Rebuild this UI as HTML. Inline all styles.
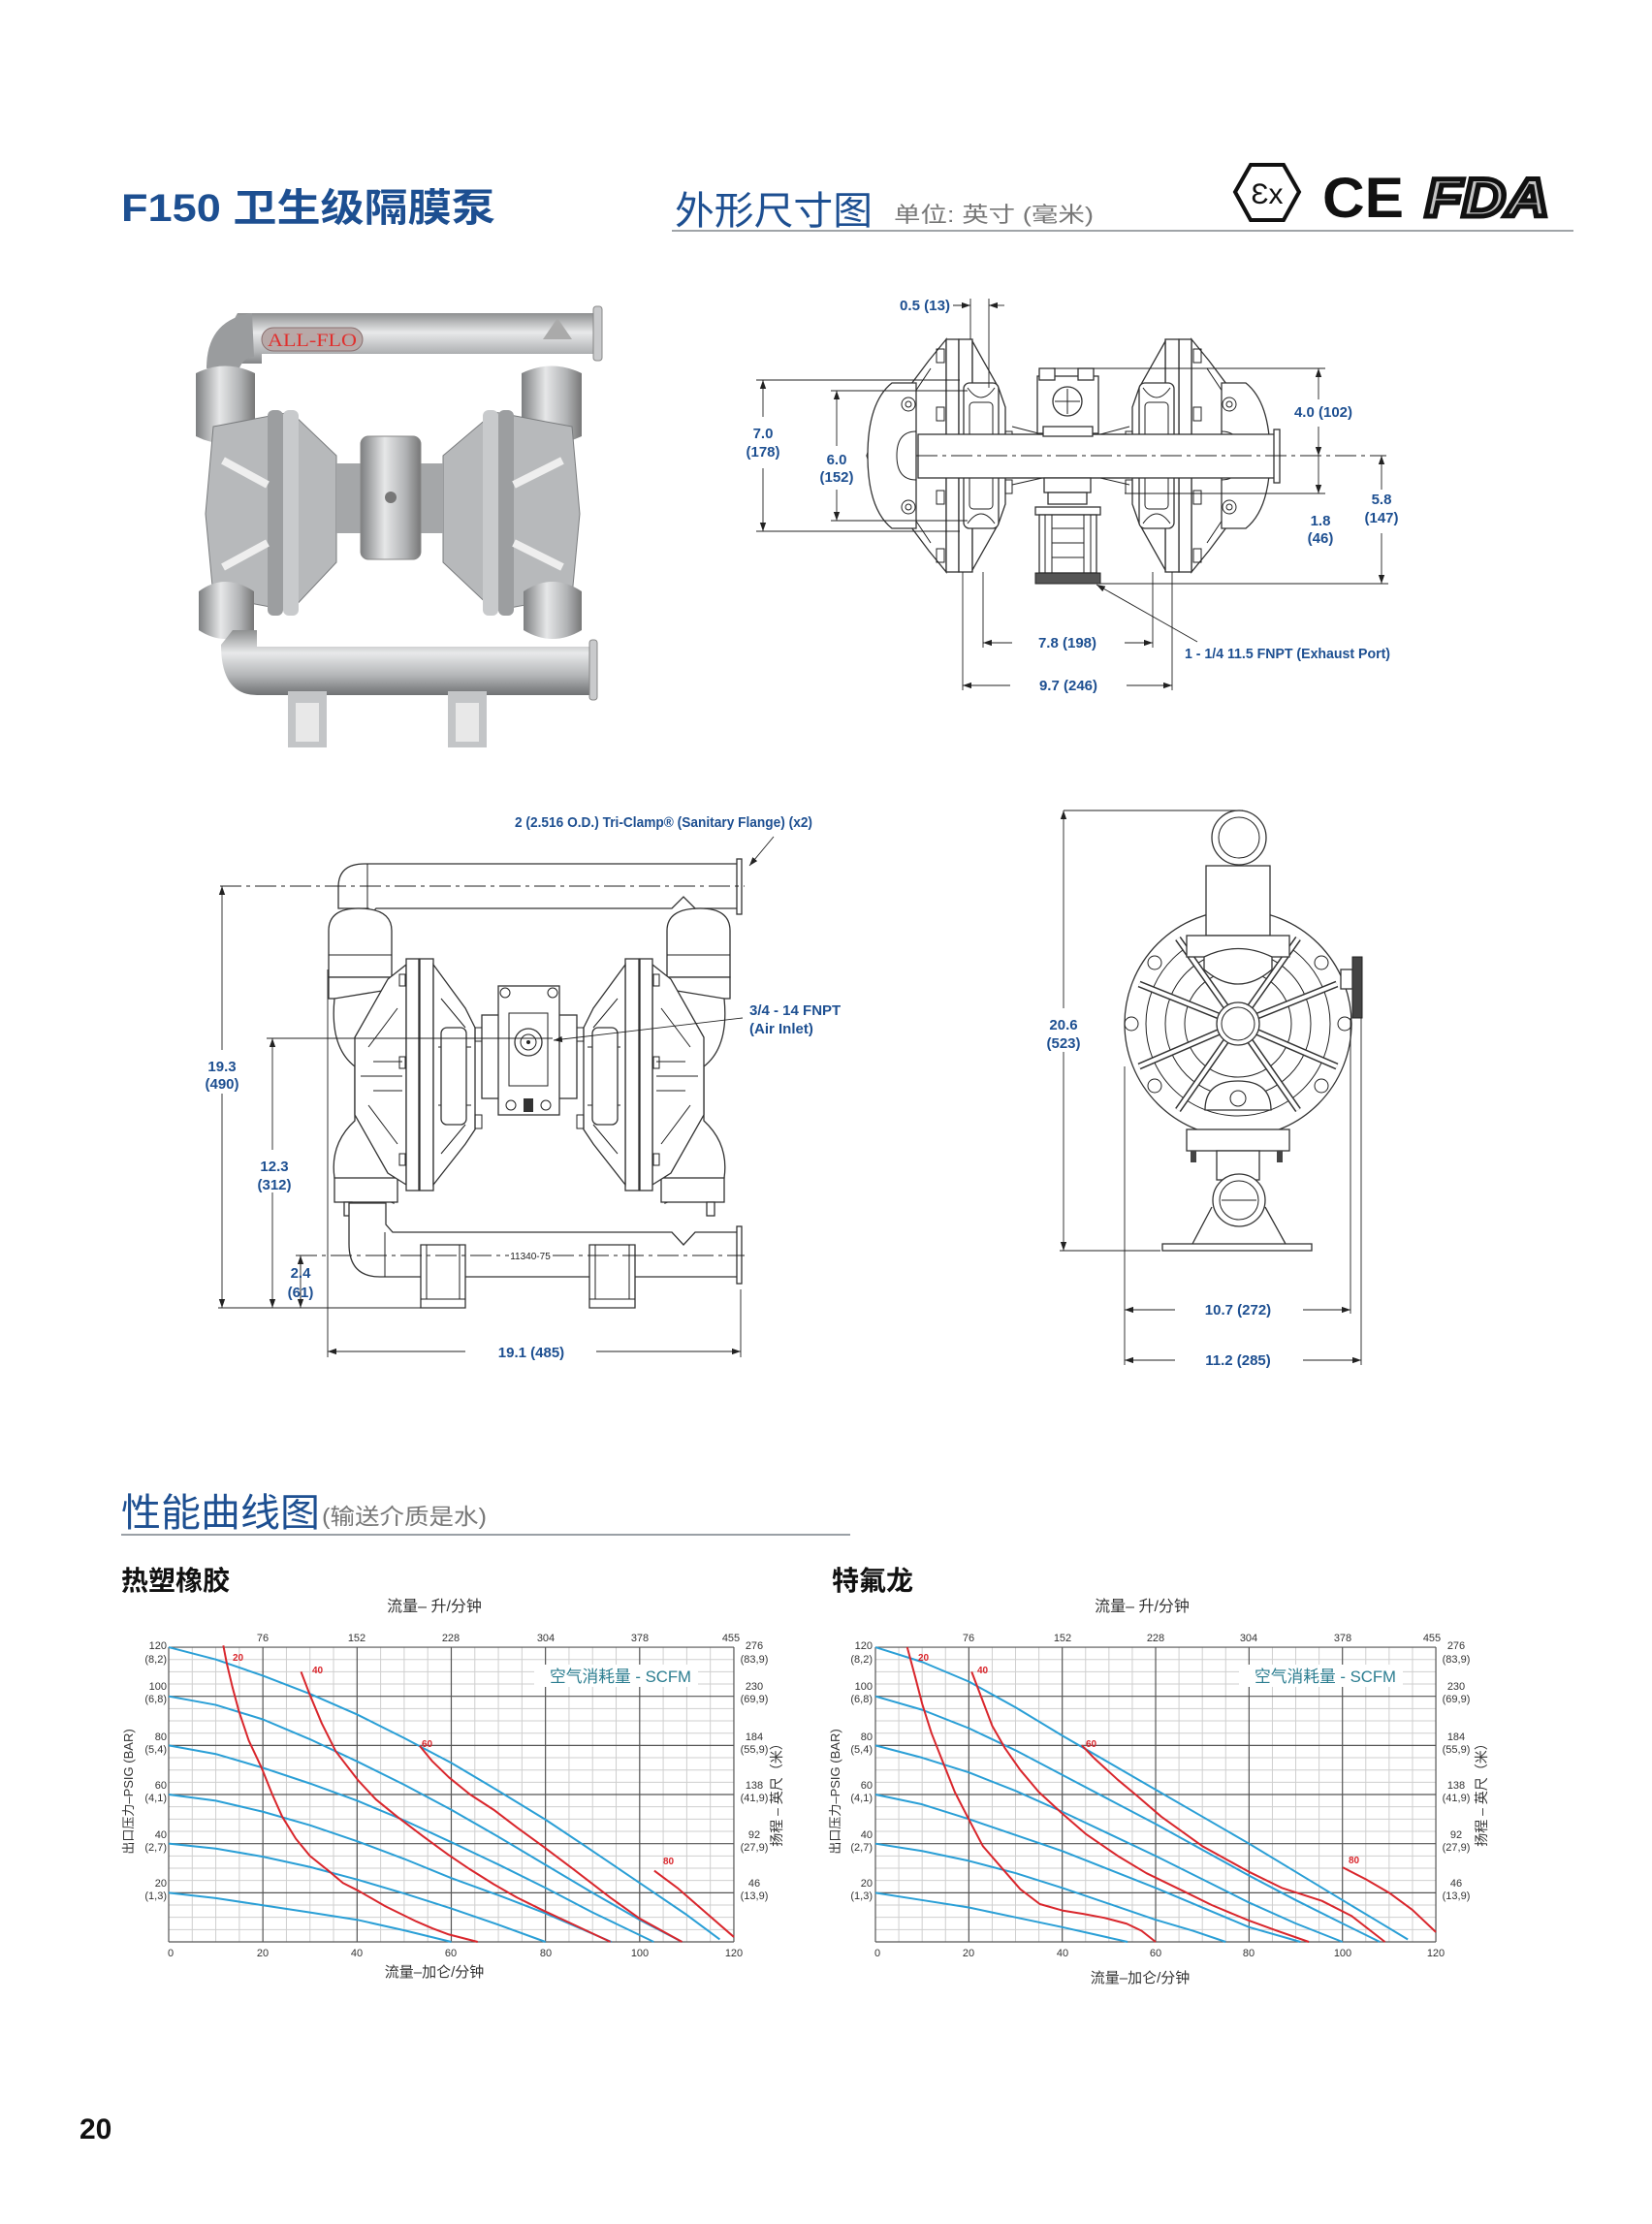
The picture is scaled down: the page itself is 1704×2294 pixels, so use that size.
<!DOCTYPE html>
<html><head><meta charset="utf-8">
<style>
html,body{margin:0;padding:0;background:#fff;}
svg{display:block;}
.cj{font-family:"Liberation Sans","Noto Sans CJK SC",sans-serif;}
.dim{font-family:"Liberation Sans",sans-serif;font-size:15px;fill:#1d4f91;font-weight:bold;}
.ax{font-family:"Liberation Sans",sans-serif;font-size:11px;fill:#333;}
.ln{stroke:#222;stroke-width:1;fill:none;}
.dl{stroke:#222;stroke-width:0.9;fill:none;}
.pt{stroke:#333;stroke-width:1.3;fill:#fff;}
.bl{fill:none;stroke:#2a9fd6;stroke-width:2;vector-effect:non-scaling-stroke;stroke-linejoin:round;}
.rd{fill:none;stroke:#d9262c;stroke-width:2;vector-effect:non-scaling-stroke;stroke-linejoin:round;}
.gmin{stroke:#cfcfcf;stroke-width:1;vector-effect:non-scaling-stroke;fill:none;}
.gmaj{stroke:#555;stroke-width:1.2;vector-effect:non-scaling-stroke;fill:none;}
.rl{font-family:"Liberation Sans",sans-serif;font-size:10px;font-weight:bold;fill:#d9262c;}
</style></head>
<body>
<svg width="1704" height="2294" viewBox="0 0 1704 2294" xmlns="http://www.w3.org/2000/svg">
<defs>
<marker id="ar" viewBox="0 0 10 10" refX="10" refY="5" markerWidth="9" markerHeight="9" markerUnits="userSpaceOnUse" orient="auto-start-reverse"><path d="M0,1.5 L10,5 L0,8.5 z" fill="#222"/></marker>
<linearGradient id="met" x1="0" y1="0" x2="0" y2="1"><stop offset="0" stop-color="#8e9091"/><stop offset="0.35" stop-color="#e8e9ea"/><stop offset="0.7" stop-color="#b3b5b7"/><stop offset="1" stop-color="#6f7173"/></linearGradient>
<linearGradient id="metv" x1="0" y1="0" x2="1" y2="0"><stop offset="0" stop-color="#7d7f81"/><stop offset="0.4" stop-color="#e6e7e8"/><stop offset="0.75" stop-color="#b0b2b4"/><stop offset="1" stop-color="#777"/></linearGradient>
<g id="grid">
<path class="gmin" d="M5 0V120M10 0V120M15 0V120M25 0V120M30 0V120M35 0V120M45 0V120M50 0V120M55 0V120M65 0V120M70 0V120M75 0V120M85 0V120M90 0V120M95 0V120M105 0V120M110 0V120M115 0V120M0 5H120M0 10H120M0 15H120M0 25H120M0 30H120M0 35H120M0 45H120M0 50H120M0 55H120M0 65H120M0 70H120M0 75H120M0 85H120M0 90H120M0 95H120M0 105H120M0 110H120M0 115H120"/>
<path class="gmaj" d="M0 0V120M20 0V120M40 0V120M60 0V120M80 0V120M100 0V120M120 0V120M0 0H120M0 20H120M0 40H120M0 60H120M0 80H120M0 100H120M0 120H120"/>
</g>
</defs>

<!-- HEADER -->
<text x="125" y="228" class="cj" font-size="40" font-weight="bold" fill="#1d4f91" textLength="386" lengthAdjust="spacingAndGlyphs">F150 卫生级隔膜泵</text>
<text x="696" y="231" class="cj" font-size="40" fill="#1d4f91" textLength="204" lengthAdjust="spacingAndGlyphs">外形尺寸图</text>
<text x="922" y="229" class="cj" font-size="22" fill="#777" textLength="206" lengthAdjust="spacingAndGlyphs">单位:  英寸  (毫米)</text>
<line x1="693" y1="238" x2="1623" y2="238" stroke="#a0a4a8" stroke-width="2"/>
<!-- logos -->
<path d="M1290 170 L1324 170 L1340 198 L1324 227 L1290 227 L1274 198 Z" fill="none" stroke="#111" stroke-width="4"/>
<text x="1307" y="210" font-family="Liberation Sans,sans-serif" font-size="30" text-anchor="middle" fill="#111">Ɛx</text>
<text x="1364" y="224" font-family="Liberation Sans,sans-serif" font-size="58" font-weight="bold" fill="#111" textLength="84" lengthAdjust="spacingAndGlyphs">CE</text>
<text x="1470" y="223" font-family="Liberation Sans,sans-serif" font-size="56" font-weight="bold" font-style="italic" fill="#fff" stroke="#111" stroke-width="5" textLength="128" lengthAdjust="spacingAndGlyphs">FDA</text>
<text x="1470" y="223" font-family="Liberation Sans,sans-serif" font-size="56" font-weight="bold" font-style="italic" fill="#111" textLength="128" lengthAdjust="spacingAndGlyphs" opacity="0.25">FDA</text>

<!-- PHOTO -->
<g>
<path d="M245 323 H617 V365 H270 V375 H245 Q213 360 213 380 Z" fill="url(#met)"/>
<path d="M213 380 Q213 330 260 323 L262 368 Q250 368 245 385 Z" fill="#9a9c9e"/>
<rect x="612" y="316" width="9" height="56" rx="3" fill="#c9cacc" stroke="#888"/>
<rect x="270" y="338" width="104" height="24" rx="12" fill="#b8a9a8" stroke="#8a7070"/>
<text x="322" y="357" font-family="Liberation Serif,serif" font-size="19" fill="#e0302e" text-anchor="middle" textLength="92" lengthAdjust="spacingAndGlyphs">ALL-FLO</text>
<path d="M202 385 Q232 370 263 385 V450 Q232 465 202 450 Z" fill="url(#metv)"/>
<path d="M538 385 Q569 370 600 385 V450 Q569 465 538 450 Z" fill="url(#metv)"/>
<path d="M560 350 L575 328 L590 350 Z" fill="#aaa"/>
<path d="M220 440 L300 425 L347 470 L347 580 L300 630 L220 615 L212 530 Z" fill="#b7b9bb" stroke="#7a7c7e"/>
<path d="M590 440 L510 425 L457 470 L457 580 L510 630 L590 615 L598 530 Z" fill="#b7b9bb" stroke="#7a7c7e"/>
<rect x="276" y="423" width="16" height="212" rx="6" fill="#9c9ea0"/>
<rect x="292" y="423" width="16" height="212" rx="6" fill="#c8cacc"/>
<rect x="498" y="423" width="16" height="212" rx="6" fill="#c8cacc"/>
<rect x="514" y="423" width="16" height="212" rx="6" fill="#9c9ea0"/>
<path d="M230 475 L276 500 M230 585 L276 560 M580 475 L530 500 M580 585 L530 560" stroke="#eee" stroke-width="8"/>
<rect x="347" y="478" width="110" height="72" fill="#a5a7a9"/>
<rect x="372" y="450" width="62" height="127" rx="8" fill="url(#metv)" stroke="#888"/>
<circle cx="403" cy="513" r="6" fill="#777"/>
<path d="M205 610 Q232 590 262 610 V650 Q232 668 205 650 Z" fill="url(#metv)"/>
<path d="M540 610 Q570 590 600 610 V650 Q570 668 540 650 Z" fill="url(#metv)"/>
<path d="M228 665 Q228 717 265 717 H613 V667 H265 V650 H240 Z" fill="url(#met)"/>
<rect x="608" y="660" width="8" height="62" rx="3" fill="#c9cacc" stroke="#888"/>
<rect x="297" y="713" width="40" height="58" fill="#c3c5c7"/>
<rect x="462" y="713" width="40" height="58" fill="#c3c5c7"/>
<rect x="305" y="725" width="24" height="40" fill="#e8e8e8"/>
<rect x="470" y="725" width="24" height="40" fill="#e8e8e8"/>
</g>

<!-- TOP RIGHT FRONT VIEW -->
<g>
<g id="hsgL">
<path class="pt" d="M976 350 L958 372 L922 420 L898 458 L894 470 L898 482 L922 520 L958 568 L976 590 Z"/>
<path class="ln" d="M960 380 L930 425 L905 470 L930 515 L960 560"/>
<path class="pt" d="M920 395 Q895 415 895 470 Q895 525 920 545 L945 545 V395 Z" fill="none"/>
<path class="ln" d="M945 445 Q925 445 925 470 Q925 495 945 495"/>
<circle class="ln" cx="937" cy="417" r="7"/><circle class="ln" cx="937" cy="417" r="3"/>
<circle class="ln" cx="937" cy="523" r="7"/><circle class="ln" cx="937" cy="523" r="3"/>
<rect class="pt" x="976" y="350" width="13" height="240"/>
<rect class="pt" x="989" y="350" width="14" height="240"/>
<path class="pt" d="M1003 352 L1030 400 L1037 420 L1037 520 L1030 540 L1003 588 Z"/>
<rect class="pt" x="994" y="395" width="36" height="150" rx="6"/>
<rect class="ln" x="1000" y="415" width="24" height="110" rx="4"/>
<path class="ln" d="M998 400 Q1012 420 1026 400 M998 540 Q1012 520 1026 540"/>
<rect class="ln" x="966" y="360" width="8" height="14"/><rect class="ln" x="966" y="420" width="8" height="14"/><rect class="ln" x="966" y="506" width="8" height="14"/><rect class="ln" x="966" y="566" width="8" height="14"/>
<rect class="ln" x="1037" y="445" width="7" height="14"/><rect class="ln" x="1037" y="495" width="7" height="14"/>
</g>
<use href="#hsgL" transform="translate(2205,0) scale(-1,1)"/>
<rect class="pt" x="947" y="448" width="371" height="45" fill="none"/>
<rect fill="#fff" x="1044" y="449" width="121" height="43"/>
<line class="ln" x1="1044" y1="448" x2="1165" y2="448"/><line class="ln" x1="1044" y1="493" x2="1165" y2="493"/>
<path class="ln" d="M1044 440 L1075 448 M1044 500 L1075 493 M1165 440 L1135 448 M1165 500 L1135 493"/>
<rect class="pt" x="1314" y="443" width="6" height="55"/>
<rect class="pt" x="1070" y="388" width="63" height="59"/>
<rect class="pt" x="1072" y="380" width="16" height="12"/><rect class="pt" x="1112" y="380" width="16" height="12"/>
<circle class="pt" cx="1101" cy="414" r="15"/><path class="ln" d="M1101 401 V427 M1088 414 H1114"/>
<rect class="pt" x="1076" y="440" width="51" height="10"/>
<rect class="pt" x="1077" y="493" width="48" height="15"/>
<rect class="pt" x="1081" y="508" width="40" height="12"/>
<rect class="pt" x="1068" y="523" width="67" height="8"/>
<rect class="pt" x="1072" y="531" width="59" height="60"/>
<path class="ln" d="M1078 531 V591 M1125 531 V591 M1085 531 V591 M1118 531 V591 M1085 545 H1118 M1085 560 H1118 M1085 575 H1118"/>
<rect x="1068" y="591" width="67" height="11" fill="#555" stroke="#222"/>
<!-- centerline -->
<path d="M945 470 H1430" stroke="#222" stroke-width="0.9" stroke-dasharray="22,5,4,5"/>
<!-- dims -->
<text class="dim" x="954" y="320" text-anchor="middle" textLength="52" lengthAdjust="spacingAndGlyphs">0.5 (13)</text>
<line class="dl" x1="983" y1="315" x2="1001" y2="315" marker-end="url(#ar)"/>
<line class="dl" x1="1036" y1="315" x2="1020" y2="315" marker-end="url(#ar)"/>
<path class="dl" d="M1001 308 V350 M1020 308 V400"/>
<path class="dl" d="M780 392 H990 M780 548 H990 M857 403 H998 M857 537 H998"/>
<line class="dl" x1="787" y1="430" x2="787" y2="392" marker-end="url(#ar)"/>
<line class="dl" x1="787" y1="483" x2="787" y2="548" marker-end="url(#ar)"/>
<text class="dim" x="787" y="452" text-anchor="middle">7.0</text>
<text class="dim" x="787" y="471" text-anchor="middle">(178)</text>
<line class="dl" x1="863" y1="460" x2="863" y2="403" marker-end="url(#ar)"/>
<line class="dl" x1="863" y1="505" x2="863" y2="537" marker-end="url(#ar)"/>
<text class="dim" x="863" y="479" text-anchor="middle">6.0</text>
<text class="dim" x="863" y="497" text-anchor="middle">(152)</text>
<path class="dl" d="M1086 380 H1367 M1160 509 H1367 M1135 602 H1432"/>
<line class="dl" x1="1360" y1="412" x2="1360" y2="380" marker-end="url(#ar)"/>
<line class="dl" x1="1360" y1="440" x2="1360" y2="470" marker-end="url(#ar)"/>
<text class="dim" x="1365" y="430" text-anchor="middle">4.0 (102)</text>
<line class="dl" x1="1360" y1="470" x2="1360" y2="509" marker-end="url(#ar)"/>
<text class="dim" x="1362" y="542" text-anchor="middle">1.8</text>
<text class="dim" x="1362" y="560" text-anchor="middle">(46)</text>
<line class="dl" x1="1425" y1="505" x2="1425" y2="470" marker-end="url(#ar)"/>
<line class="dl" x1="1425" y1="550" x2="1425" y2="602" marker-end="url(#ar)"/>
<text class="dim" x="1425" y="520" text-anchor="middle">5.8</text>
<text class="dim" x="1425" y="539" text-anchor="middle">(147)</text>
<path class="dl" d="M1014 590 V668 M1189 590 V668 M993 590 V712 M1209 590 V712"/>
<line class="dl" x1="1044" y1="663" x2="1014" y2="663" marker-end="url(#ar)"/>
<line class="dl" x1="1160" y1="663" x2="1189" y2="663" marker-end="url(#ar)"/>
<text class="dim" x="1101" y="668" text-anchor="middle">7.8 (198)</text>
<line class="dl" x1="1042" y1="707" x2="993" y2="707" marker-end="url(#ar)"/>
<line class="dl" x1="1162" y1="707" x2="1209" y2="707" marker-end="url(#ar)"/>
<text class="dim" x="1102" y="712" text-anchor="middle">9.7 (246)</text>
<line class="dl" x1="1235" y1="662" x2="1131" y2="603" marker-end="url(#ar)"/>
<text class="dim" x="1222" y="679" textLength="212" lengthAdjust="spacingAndGlyphs">1 - 1/4 11.5 FNPT (Exhaust Port)</text>
</g>

<!-- BOTTOM LEFT SIDE VIEW -->
<g>
<text class="dim" x="531" y="853" textLength="307" lengthAdjust="spacingAndGlyphs">2 (2.516 O.D.) Tri-Clamp® (Sanitary Flange) (x2)</text>
<line class="dl" x1="798" y1="863" x2="773" y2="893" marker-end="url(#ar)"/>
<path class="pt" d="M349 937 V915 Q349 891 376 891 H762 V937 H717 L705 925 L693 937 H388 L380 945 V937 Z" fill="#fff"/>
<path class="ln" d="M379 891 V945"/>
<rect class="pt" x="760" y="886" width="5" height="57"/>
<g id="sideL">
<path class="pt" d="M339 1008 V960 Q339 937 370 937 Q404 937 404 960 V1008 Z"/>
<path class="ln" d="M339 985 H404"/>
<rect class="pt" x="339" y="1008" width="70" height="22"/>
<path class="pt" d="M345 1030 Q340 1080 366 1100 L366 1156 Q340 1180 345 1215 L406 1241 L406 1020 Z"/>
<rect class="pt" x="345" y="1215" width="65" height="25"/>
<rect class="pt" x="355" y="1240" width="8" height="14" fill="#555"/>
<path class="pt" d="M366 1070 L400 1010 L419 995 L419 1222 L400 1210 L366 1150 Z"/>
<path class="ln" d="M380 1080 L410 1040 M380 1140 L410 1180 M372 1110 H415 M385 1095 L415 1095 M385 1125 L415 1125"/>
<rect class="pt" x="419" y="989" width="13" height="239"/>
<rect class="pt" x="433" y="989" width="14" height="239"/>
<path class="pt" d="M447 995 L480 1040 L490 1060 L490 1165 L480 1180 L447 1222 Z"/>
<path class="ln" d="M455 1030 L480 1060 M455 1190 L480 1160 M452 1080 H486 M452 1140 H486"/>
<rect class="pt" x="455" y="1060" width="26" height="100" rx="6"/>
<rect class="ln" x="412" y="1005" width="6" height="12"/><rect class="ln" x="412" y="1090" width="6" height="12"/><rect class="ln" x="412" y="1190" width="6" height="12"/>
<rect class="ln" x="490" y="1060" width="7" height="14"/><rect class="ln" x="490" y="1150" width="7" height="14"/>
</g>
<use href="#sideL" transform="translate(1092,0) scale(-1,1)"/>
<rect class="pt" x="497" y="1047" width="98" height="86"/>
<rect class="pt" x="514" y="1017" width="63" height="133"/>
<rect class="ln" x="525" y="1045" width="40" height="75"/>
<circle class="pt" cx="545" cy="1075" r="14"/><circle class="ln" cx="545" cy="1075" r="8"/><circle cx="545" cy="1075" r="2" fill="#222"/>
<circle class="ln" cx="521" cy="1024" r="5"/><circle class="ln" cx="570" cy="1024" r="5"/>
<circle class="ln" cx="527" cy="1140" r="5"/><circle class="ln" cx="563" cy="1140" r="5"/><rect x="540" y="1133" width="10" height="14" fill="#333"/>
<path class="pt" d="M360 1241 V1283 Q360 1317 392 1317 H762 V1271 H717 L705 1284 L693 1271 H405 L398 1263 V1241 Z" fill="#fff"/>
<path class="ln" d="M397 1271 V1317"/>
<rect class="pt" x="760" y="1265" width="5" height="59"/>
<path class="pt" d="M434 1284 H480 V1349 H434 Z"/><path class="ln" d="M440 1284 V1340 H474 V1284 M434 1340 H480"/>
<path class="pt" d="M608 1284 H655 V1349 H608 Z"/><path class="ln" d="M614 1284 V1340 H649 V1284 M608 1340 H655"/>
<path d="M227 914 H768" stroke="#222" stroke-width="0.9" stroke-dasharray="22,5,4,5"/>
<path d="M305 1295 H525 M570 1295 H768" stroke="#222" stroke-width="0.9" stroke-dasharray="22,5,4,5"/>
<text x="547" y="1299" font-family="Liberation Sans,sans-serif" font-size="10" fill="#222" text-anchor="middle">11340-75</text>
<path class="dl" d="M225 1349 H434 M275 1071 H570 M338 1000 V1400 M764 1330 V1400"/>
<line class="dl" x1="229" y1="1083" x2="229" y2="914" marker-end="url(#ar)"/>
<line class="dl" x1="229" y1="1128" x2="229" y2="1349" marker-end="url(#ar)"/>
<text class="dim" x="229" y="1105" text-anchor="middle">19.3</text>
<text class="dim" x="229" y="1123" text-anchor="middle">(490)</text>
<line class="dl" x1="281" y1="1186" x2="281" y2="1071" marker-end="url(#ar)"/>
<line class="dl" x1="281" y1="1230" x2="281" y2="1349" marker-end="url(#ar)"/>
<text class="dim" x="283" y="1208" text-anchor="middle">12.3</text>
<text class="dim" x="283" y="1227" text-anchor="middle">(312)</text>
<line class="dl" x1="310" y1="1295" x2="310" y2="1349"/>
<line class="dl" x1="310" y1="1310" x2="310" y2="1295" marker-end="url(#ar)"/>
<line class="dl" x1="310" y1="1330" x2="310" y2="1349" marker-end="url(#ar)"/>
<text class="dim" x="310" y="1318" text-anchor="middle">2.4</text>
<text class="dim" x="310" y="1338" text-anchor="middle">(61)</text>
<line class="dl" x1="480" y1="1394" x2="338" y2="1394" marker-end="url(#ar)"/>
<line class="dl" x1="615" y1="1394" x2="764" y2="1394" marker-end="url(#ar)"/>
<text class="dim" x="548" y="1400" text-anchor="middle">19.1 (485)</text>
<line class="dl" x1="766" y1="1050" x2="571" y2="1073" marker-end="url(#ar)"/>
<text class="dim" x="773" y="1047">3/4 - 14 FNPT</text>
<text class="dim" x="773" y="1066">(Air Inlet)</text>
</g>

<!-- BOTTOM RIGHT END VIEW -->
<g>
<circle class="pt" cx="1277" cy="1056" r="117"/>
<circle class="ln" cx="1277" cy="1056" r="95"/>
<circle class="ln" cx="1277" cy="1056" r="75"/>
<circle class="ln" cx="1277" cy="1056" r="55"/>
<path d="M1277 1056 L1175 1015 M1277 1056 L1175 1100 M1277 1056 L1379 1015 M1277 1056 L1379 1100 M1277 1056 L1215 968 M1277 1056 L1339 968 M1277 1056 L1215 1145 M1277 1056 L1339 1145" stroke="#333" stroke-width="7"/>
<path d="M1277 1056 L1175 1015 M1277 1056 L1175 1100 M1277 1056 L1379 1015 M1277 1056 L1379 1100 M1277 1056 L1215 968 M1277 1056 L1339 968 M1277 1056 L1215 1145 M1277 1056 L1339 1145" stroke="#fff" stroke-width="4"/>
<circle class="pt" cx="1277" cy="1056" r="22"/><circle class="ln" cx="1277" cy="1056" r="17"/>
<circle class="ln" cx="1191" cy="993" r="7"/><circle class="ln" cx="1363" cy="993" r="7"/><circle class="ln" cx="1167" cy="1056" r="7"/><circle class="ln" cx="1387" cy="1056" r="7"/><circle class="ln" cx="1191" cy="1120" r="7"/><circle class="ln" cx="1363" cy="1120" r="7"/>
<rect class="pt" x="1244" y="893" width="66" height="72"/>
<rect class="pt" x="1224" y="965" width="106" height="22"/>
<path class="pt" d="M1242 987 Q1277 970 1312 987 V1000 Q1277 1030 1242 1000 Z"/>
<circle class="pt" cx="1278" cy="864" r="28"/><circle class="ln" cx="1278" cy="864" r="21"/>
<path class="pt" d="M1243 1145 Q1243 1115 1277 1115 Q1311 1115 1311 1145 Z"/>
<circle class="ln" cx="1277" cy="1133" r="8"/>
<rect class="pt" x="1224" y="1165" width="106" height="22"/>
<rect class="pt" x="1255" y="1187" width="44" height="30"/>
<rect x="1228" y="1187" width="6" height="12" fill="#444"/><rect x="1317" y="1187" width="6" height="12" fill="#444"/>
<path class="pt" d="M1230 1283 L1250 1245 M1326 1283 L1305 1245"/>
<circle class="pt" cx="1278" cy="1238" r="27"/><circle class="ln" cx="1278" cy="1238" r="20"/><path class="ln" d="M1260 1238 H1296"/>
<rect class="pt" x="1199" y="1283" width="154" height="7"/>
<rect x="1395" y="987" width="10" height="63" fill="#444" stroke="#222"/>
<rect class="pt" x="1383" y="1000" width="12" height="20"/>
<path class="dl" d="M1097 836 H1282 M1093 1290 H1197 M1160 1100 V1408 M1393 1050 V1355 M1404 1050 V1408"/>
<line class="dl" x1="1097" y1="1040" x2="1097" y2="836" marker-end="url(#ar)"/>
<line class="dl" x1="1097" y1="1085" x2="1097" y2="1290" marker-end="url(#ar)"/>
<text class="dim" x="1097" y="1062" text-anchor="middle">20.6</text>
<text class="dim" x="1097" y="1081" text-anchor="middle">(523)</text>
<line class="dl" x1="1212" y1="1351" x2="1160" y2="1351" marker-end="url(#ar)"/>
<line class="dl" x1="1344" y1="1351" x2="1393" y2="1351" marker-end="url(#ar)"/>
<text class="dim" x="1277" y="1356" text-anchor="middle">10.7 (272)</text>
<line class="dl" x1="1212" y1="1403" x2="1160" y2="1403" marker-end="url(#ar)"/>
<line class="dl" x1="1344" y1="1403" x2="1404" y2="1403" marker-end="url(#ar)"/>
<text class="dim" x="1277" y="1408" text-anchor="middle">11.2 (285)</text>
</g>

<!-- PERFORMANCE SECTION -->
<text x="125" y="1574" class="cj" font-size="40" fill="#1d4f91" textLength="205" lengthAdjust="spacingAndGlyphs">性能曲线图</text>
<text x="332" y="1572" class="cj" font-size="23" fill="#777" textLength="170" lengthAdjust="spacingAndGlyphs">(输送介质是水)</text>
<line x1="125" y1="1583" x2="877" y2="1583" stroke="#9aa0a6" stroke-width="2"/>
<text x="125" y="1640" class="cj" font-size="28" font-weight="bold" fill="#111">热塑橡胶</text>
<text x="858" y="1640" class="cj" font-size="28" font-weight="bold" fill="#111">特氟龙</text>

<!-- Rubber chart -->
<g>
<text x="448" y="1662" class="cj" font-size="16" fill="#333" text-anchor="middle">流量– 升/分钟</text>
<use href="#grid" transform="translate(174,2003) scale(4.858,-2.533)"/>
<g transform="translate(174,2003) scale(4.858,-2.533)">
<polyline class="bl" points="0,120 10,115 20,108.4 30,101 40,92.6 50,83 60,72.9 70,61.5 80,49.8 90,37 100,24 110,11 117,1"/>
<polyline class="bl" points="0,100 10,96.5 20,90.6 30,82.5 40,73.5 50,64 60,53.8 70,42.8 80,31.4 90,20 100,9 109,0"/>
<polyline class="bl" points="0,80 10,76.5 20,70.9 30,64.5 40,57.5 50,49.5 60,40.6 70,31.5 80,22 90,12 103,0"/>
<polyline class="bl" points="0,60 10,57.5 20,53 30,47.5 40,41 50,33.8 60,26 70,19 80,11.6 94,0"/>
<polyline class="bl" points="0,40 10,38 20,34.7 30,30.5 40,25.4 50,19.7 60,13.6 70,7 80,0"/>
<polyline class="bl" points="0,20 10,17.8 20,14.9 30,12 40,9 50,4.7 60,0"/>
<polyline class="rd" points="11.6,120.7 12.3,113.7 13.5,104 14.9,94 17,82 19.7,71 22,60 24.1,51 27,42 30,35 34.1,28.7 37,24 40.3,20.8 46,14.5 52.6,8.3 56,5.5 59.5,3 65.6,0"/>
<polyline class="rd" points="28.1,110 30,100.5 32.5,89 35.5,77.5 40.3,65.6 44,58 48.5,51 54,43 59.5,35.3 64,29.5 69,23.5 74,18 79.4,12.9 86,7 93.8,0"/>
<polyline class="rd" points="53.3,79.8 56,73.5 59.5,67 64,60 69,53.8 74,46.5 79.4,39 86,29.5 93.8,18 100,9.5 109,0"/>
<polyline class="rd" points="103.1,29 108,22 114,12 120,2"/>
</g>
<rect x="551" y="1717" width="169" height="23" fill="#fff"/>
<text x="567" y="1735" class="cj" font-size="17" fill="#2b7d90" textLength="146" lengthAdjust="spacingAndGlyphs">空气消耗量 - SCFM</text>
<text class="rl" x="240" y="1713">20</text>
<text class="rl" x="322" y="1726">40</text>
<text class="rl" x="435" y="1802">60</text>
<text class="rl" x="684" y="1923">80</text>
<g class="ax" text-anchor="middle">
<text x="271" y="1693">76</text><text x="368" y="1693">152</text><text x="465" y="1693">228</text><text x="563" y="1693">304</text><text x="660" y="1693">378</text><text x="754" y="1693">455</text>
<text x="176" y="2018">0</text><text x="271" y="2018">20</text><text x="368" y="2018">40</text><text x="465" y="2018">60</text><text x="563" y="2018">80</text><text x="660" y="2018">100</text><text x="757" y="2018">120</text>
</g>
<g class="ax" text-anchor="end">
<text x="172" y="1701">120</text><text x="172" y="1715">(8,2)</text>
<text x="172" y="1743">100</text><text x="172" y="1756">(6,8)</text>
<text x="172" y="1795">80</text><text x="172" y="1808">(5,4)</text>
<text x="172" y="1845">60</text><text x="172" y="1858">(4,1)</text>
<text x="172" y="1896">40</text><text x="172" y="1909">(2,7)</text>
<text x="172" y="1946">20</text><text x="172" y="1959">(1,3)</text>
</g>
<g class="ax" text-anchor="middle">
<text x="778" y="1701">276</text><text x="778" y="1715">(83,9)</text>
<text x="778" y="1743">230</text><text x="778" y="1756">(69,9)</text>
<text x="778" y="1795">184</text><text x="778" y="1808">(55,9)</text>
<text x="778" y="1845">138</text><text x="778" y="1858">(41,9)</text>
<text x="778" y="1896">92</text><text x="778" y="1909">(27,9)</text>
<text x="778" y="1946">46</text><text x="778" y="1959">(13,9)</text>
</g>
<text x="448" y="2039" class="cj" font-size="15" fill="#333" text-anchor="middle">流量–加仑/分钟</text>
<text transform="translate(137,1848) rotate(-90)" class="cj" font-size="13" fill="#333" text-anchor="middle">出口压力–PSIG (BAR)</text>
<text transform="translate(806,1848) rotate(-90)" class="cj" font-size="14" fill="#333" text-anchor="middle">扬程 – 英尺（米）</text>
</g>

<!-- Teflon chart -->
<g>
<text x="1178" y="1662" class="cj" font-size="16" fill="#333" text-anchor="middle">流量– 升/分钟</text>
<use href="#grid" transform="translate(903,2003) scale(4.817,-2.533)"/>
<g transform="translate(903,2003) scale(4.817,-2.533)">
<polyline class="bl" points="0,120 10,114 20,106 30,95.5 40,84 50,73 60,62 70,51 80,40 90,28.5 100,17 107,9 114,1"/>
<polyline class="bl" points="0,100 10,94.5 20,87 30,78 40,68 50,58 60,48 70,37.5 80,27 90,17 100,7.5 108,0"/>
<polyline class="bl" points="0,80 10,75 20,69 30,61.5 40,53 50,44 60,35 70,25.5 80,16 90,7.5 100,0"/>
<polyline class="bl" points="0,60 10,56 20,50 30,43.5 40,37 50,29.5 60,22 70,14 80,6 91,0"/>
<polyline class="bl" points="0,40 10,37 20,33 30,28 40,22 50,15.5 60,9 68,4.5 75,0"/>
<polyline class="bl" points="0,20 10,17 20,14 30,10 40,6 47,3 54,0"/>
<polyline class="rd" points="6.8,120 8.5,108 10,97 12,85 14.7,72 17,61 19.8,50.6 23,39 27.7,28.7 31,21.5 35.2,15.4 40,12.8 44.5,11.4 49,9.8 53.8,7.4 57,4.5 60,0"/>
<polyline class="rd" points="20.6,110 23,98 25,88 27.7,79 31,70 35,61 39.8,52.6 45,44 51.9,35 58,28 65.9,20.7 72,15 79.8,8.8 86,4.5 92.8,0"/>
<polyline class="rd" points="44.2,80 47,74.5 51.9,66 56,59.5 61.2,51 70,39 79.8,28.7 87,22 95.6,16.7 102,10.5 109.1,0"/>
<polyline class="rd" points="100.1,30.3 105,25.5 110,20 115,13 120,4"/>
</g>
<rect x="1278" y="1717" width="169" height="23" fill="#fff"/>
<text x="1294" y="1735" class="cj" font-size="17" fill="#2b7d90" textLength="146" lengthAdjust="spacingAndGlyphs">空气消耗量 - SCFM</text>
<text class="rl" x="947" y="1713">20</text>
<text class="rl" x="1008" y="1726">40</text>
<text class="rl" x="1120" y="1802">60</text>
<text class="rl" x="1391" y="1922">80</text>
<g class="ax" text-anchor="middle">
<text x="999" y="1693">76</text><text x="1096" y="1693">152</text><text x="1192" y="1693">228</text><text x="1288" y="1693">304</text><text x="1385" y="1693">378</text><text x="1477" y="1693">455</text>
<text x="905" y="2018">0</text><text x="999" y="2018">20</text><text x="1096" y="2018">40</text><text x="1192" y="2018">60</text><text x="1288" y="2018">80</text><text x="1385" y="2018">100</text><text x="1481" y="2018">120</text>
</g>
<g class="ax" text-anchor="end">
<text x="900" y="1701">120</text><text x="900" y="1715">(8,2)</text>
<text x="900" y="1743">100</text><text x="900" y="1756">(6,8)</text>
<text x="900" y="1795">80</text><text x="900" y="1808">(5,4)</text>
<text x="900" y="1845">60</text><text x="900" y="1858">(4,1)</text>
<text x="900" y="1896">40</text><text x="900" y="1909">(2,7)</text>
<text x="900" y="1946">20</text><text x="900" y="1959">(1,3)</text>
</g>
<g class="ax" text-anchor="middle">
<text x="1502" y="1701">276</text><text x="1502" y="1715">(83,9)</text>
<text x="1502" y="1743">230</text><text x="1502" y="1756">(69,9)</text>
<text x="1502" y="1795">184</text><text x="1502" y="1808">(55,9)</text>
<text x="1502" y="1845">138</text><text x="1502" y="1858">(41,9)</text>
<text x="1502" y="1896">92</text><text x="1502" y="1909">(27,9)</text>
<text x="1502" y="1946">46</text><text x="1502" y="1959">(13,9)</text>
</g>
<text x="1176" y="2045" class="cj" font-size="15" fill="#333" text-anchor="middle">流量–加仑/分钟</text>
<text transform="translate(866,1848) rotate(-90)" class="cj" font-size="13" fill="#333" text-anchor="middle">出口压力–PSIG (BAR)</text>
<text transform="translate(1533,1848) rotate(-90)" class="cj" font-size="14" fill="#333" text-anchor="middle">扬程 – 英尺（米）</text>
</g>

<text x="82" y="2206" font-family="Liberation Sans,sans-serif" font-size="30" font-weight="bold" fill="#111">20</text>
</svg>
</body></html>
